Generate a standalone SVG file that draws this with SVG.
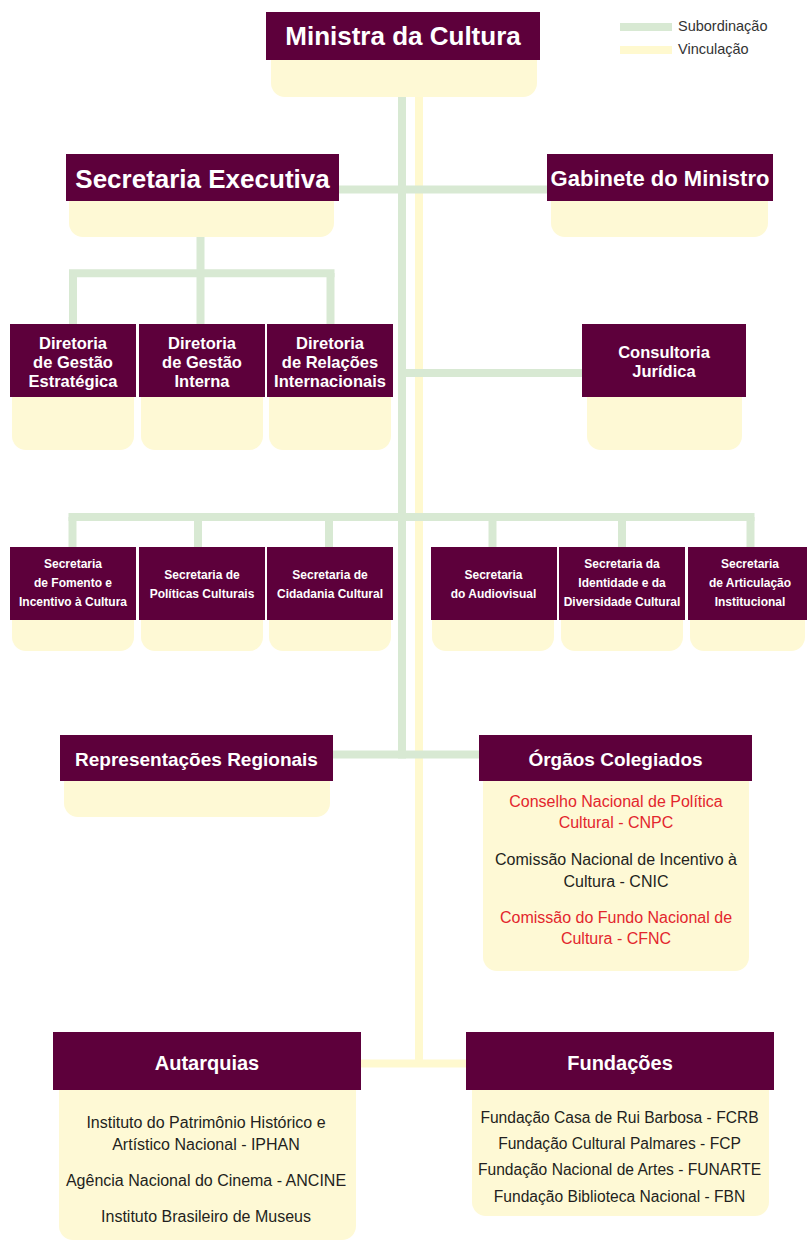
<svg xmlns="http://www.w3.org/2000/svg" width="807" height="1241" viewBox="0 0 807 1241">
<style>
.hdr{fill:#5D003B}
.cream{fill:#FEF9D5}
.g{stroke:#D8E9D3;stroke-width:8;fill:none}
.y{stroke:#FFF9CF;stroke-width:8;fill:none}
text{font-family:"Liberation Sans",Arial,sans-serif;text-anchor:middle}
.h{fill:#FFFFFF;font-weight:bold}
.b{font-size:16px;fill:#231F20}
.r{fill:#E3262D}
.leg{font-size:14.5px;fill:#333333;text-anchor:start}
</style>
<rect width="807" height="1241" fill="#FFFFFF"/>

<g id="connectors">
  <line class="y" x1="419" y1="95" x2="419" y2="1067"/>
  <line class="y" x1="361" y1="1063.5" x2="466" y2="1063.5"/>
  <line class="g" x1="402" y1="95" x2="402" y2="758.5"/>
  <line class="g" x1="339" y1="189.5" x2="547" y2="189.5"/>
  <line class="g" x1="200.5" y1="237" x2="200.5" y2="324"/>
  <line class="g" x1="69" y1="273.3" x2="334.5" y2="273.3"/>
  <line class="g" x1="73" y1="273" x2="73" y2="324"/>
  <line class="g" x1="330.5" y1="273" x2="330.5" y2="324"/>
  <line class="g" x1="402" y1="373" x2="582" y2="373"/>
  <line class="g" x1="68.5" y1="517" x2="754.5" y2="517"/>
  <line class="g" x1="72.5" y1="517" x2="72.5" y2="547"/>
  <line class="g" x1="198" y1="517" x2="198" y2="547"/>
  <line class="g" x1="329" y1="517" x2="329" y2="547"/>
  <line class="g" x1="492.5" y1="517" x2="492.5" y2="547"/>
  <line class="g" x1="622" y1="517" x2="622" y2="547"/>
  <line class="g" x1="750.5" y1="517" x2="750.5" y2="547"/>
  <line class="g" x1="333" y1="754.5" x2="479" y2="754.5"/>
</g>

<g id="legend">
  <rect x="620" y="23" width="52" height="8" fill="#D8E9D3"/>
  <rect x="620" y="46" width="52" height="8" fill="#FFF9CF"/>
  <text class="leg" x="678" y="31">Subordinação</text>
  <text class="leg" x="678" y="53.5">Vinculação</text>
</g>

<g id="ministra">
  <rect class="cream" x="271" y="40" width="266" height="57" rx="14"/>
  <rect class="hdr" x="266" y="12" width="274" height="48"/>
  <text class="h" x="403" y="45" font-size="26">Ministra da Cultura</text>
</g>

<g id="secretaria-executiva">
  <rect class="cream" x="69" y="181" width="265" height="56" rx="14"/>
  <rect class="hdr" x="66" y="154" width="273" height="47"/>
  <text class="h" x="202.5" y="187.5" font-size="26">Secretaria Executiva</text>
</g>

<g id="gabinete">
  <rect class="cream" x="551" y="181" width="217" height="56" rx="14"/>
  <rect class="hdr" x="547" y="154" width="226" height="47"/>
  <text class="h" x="660" y="185.5" font-size="22">Gabinete do Ministro</text>
</g>

<g id="dir-gestao-estrategica">
  <rect class="cream" x="12" y="377" width="122" height="73" rx="14"/>
  <rect class="hdr" x="10" y="324" width="126" height="73"/>
  <text class="h" font-size="16.5"><tspan x="73" y="349">Diretoria</tspan><tspan x="73" y="368">de Gestão</tspan><tspan x="73" y="387">Estratégica</tspan></text>
</g>

<g id="dir-gestao-interna">
  <rect class="cream" x="141" y="377" width="122" height="73" rx="14"/>
  <rect class="hdr" x="139" y="324" width="126" height="73"/>
  <text class="h" font-size="16.5"><tspan x="202" y="349">Diretoria</tspan><tspan x="202" y="368">de Gestão</tspan><tspan x="202" y="387">Interna</tspan></text>
</g>

<g id="dir-relacoes-internacionais">
  <rect class="cream" x="269" y="377" width="122" height="73" rx="14"/>
  <rect class="hdr" x="267" y="324" width="126" height="73"/>
  <text class="h" font-size="16.5"><tspan x="330" y="349">Diretoria</tspan><tspan x="330" y="368">de Relações</tspan><tspan x="330" y="387">Internacionais</tspan></text>
</g>

<g id="consultoria">
  <rect class="cream" x="587" y="377" width="155" height="73" rx="14"/>
  <rect class="hdr" x="582" y="324" width="164" height="73"/>
  <text class="h" font-size="16.5"><tspan x="664" y="358">Consultoria</tspan><tspan x="664" y="377">Jurídica</tspan></text>
</g>

<g id="sec-fomento">
  <rect class="cream" x="12" y="600" width="122" height="51" rx="14"/>
  <rect class="hdr" x="10" y="547" width="126" height="73"/>
  <text class="h" font-size="12"><tspan x="73" y="568">Secretaria</tspan><tspan x="73" y="587">de Fomento e</tspan><tspan x="73" y="606">Incentivo à Cultura</tspan></text>
</g>

<g id="sec-politicas">
  <rect class="cream" x="141" y="600" width="122" height="51" rx="14"/>
  <rect class="hdr" x="139" y="547" width="126" height="73"/>
  <text class="h" font-size="12"><tspan x="202" y="579">Secretaria de</tspan><tspan x="202" y="597.5">Políticas Culturais</tspan></text>
</g>

<g id="sec-cidadania">
  <rect class="cream" x="269" y="600" width="122" height="51" rx="14"/>
  <rect class="hdr" x="267" y="547" width="126" height="73"/>
  <text class="h" font-size="12"><tspan x="330" y="579">Secretaria de</tspan><tspan x="330" y="597.5">Cidadania Cultural</tspan></text>
</g>

<g id="sec-audiovisual">
  <rect class="cream" x="432" y="600" width="122" height="51" rx="14"/>
  <rect class="hdr" x="431" y="547" width="126" height="73"/>
  <text class="h" font-size="12"><tspan x="493.5" y="579">Secretaria</tspan><tspan x="493.5" y="597.5">do Audiovisual</tspan></text>
</g>

<g id="sec-identidade">
  <rect class="cream" x="561" y="600" width="122" height="51" rx="14"/>
  <rect class="hdr" x="559" y="547" width="126" height="73"/>
  <text class="h" font-size="12"><tspan x="622" y="568">Secretaria da</tspan><tspan x="622" y="587">Identidade e da</tspan><tspan x="622" y="606">Diversidade Cultural</tspan></text>
</g>

<g id="sec-articulacao">
  <rect class="cream" x="690" y="600" width="115" height="51" rx="14"/>
  <rect class="hdr" x="688" y="547" width="122" height="73"/>
  <text class="h" font-size="12"><tspan x="750" y="568">Secretaria</tspan><tspan x="750" y="587">de Articulação</tspan><tspan x="750" y="606">Institucional</tspan></text>
</g>

<g id="representacoes">
  <rect class="cream" x="64" y="761" width="266" height="56" rx="14"/>
  <rect class="hdr" x="60" y="735" width="273" height="46"/>
  <text class="h" x="196.5" y="765.5" font-size="19">Representações Regionais</text>
</g>

<g id="orgaos-colegiados">
  <rect class="cream" x="483" y="761" width="266" height="210" rx="14"/>
  <rect class="hdr" x="479" y="735" width="273" height="46"/>
  <text class="h" x="615.5" y="765.5" font-size="19">Órgãos Colegiados</text>
  <text class="b r"><tspan x="616" y="806.5">Conselho Nacional de Política</tspan><tspan x="616" y="828">Cultural - CNPC</tspan></text>
  <text class="b"><tspan x="616" y="865">Comissão Nacional de Incentivo à</tspan><tspan x="616" y="886.5">Cultura - CNIC</tspan></text>
  <text class="b r"><tspan x="616" y="922.5">Comissão do Fundo Nacional de</tspan><tspan x="616" y="944">Cultura - CFNC</tspan></text>
</g>

<g id="autarquias">
  <rect class="cream" x="59" y="1070" width="297" height="170" rx="14"/>
  <rect class="hdr" x="53" y="1032" width="308" height="58"/>
  <text class="h" x="207" y="1070" font-size="20">Autarquias</text>
  <text class="b"><tspan x="206" y="1127.5">Instituto do Patrimônio Histórico e</tspan><tspan x="206" y="1149.5">Artístico Nacional - IPHAN</tspan><tspan x="206" y="1186">Agência Nacional do Cinema - ANCINE</tspan><tspan x="206" y="1222">Instituto Brasileiro de Museus</tspan></text>
</g>

<g id="fundacoes">
  <rect class="cream" x="472" y="1070" width="297" height="146" rx="14"/>
  <rect class="hdr" x="466" y="1032" width="308" height="58"/>
  <text class="h" x="620" y="1070" font-size="20">Fundações</text>
  <text class="b" font-size="15.6" style="font-size:15.6px"><tspan x="619.5" y="1123">Fundação Casa de Rui Barbosa - FCRB</tspan><tspan x="619.5" y="1149">Fundação Cultural Palmares - FCP</tspan><tspan x="619.5" y="1175">Fundação Nacional de Artes - FUNARTE</tspan><tspan x="619.5" y="1202">Fundação Biblioteca Nacional - FBN</tspan></text>
</g>
</svg>
